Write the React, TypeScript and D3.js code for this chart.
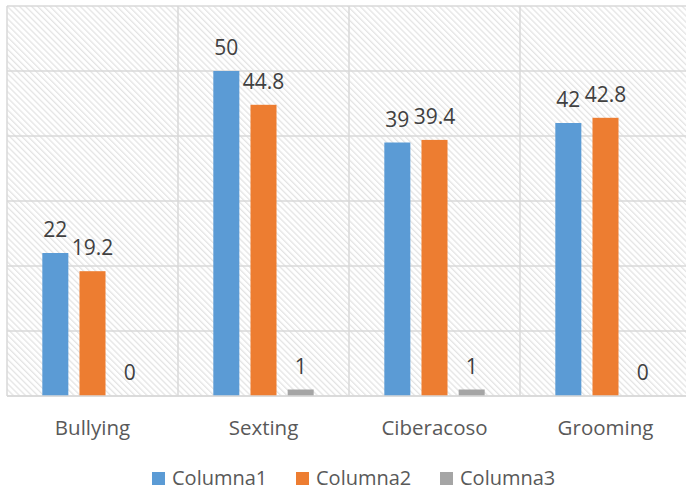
import React, { useEffect, useRef } from 'react';
import * as d3 from 'd3';

const categories = ['Bullying', 'Sexting', 'Ciberacoso', 'Grooming'];
const seriesNames = ['Columna1', 'Columna2', 'Columna3'];
const columna1 = [22, 50, 39, 42];
const columna2 = [19.2, 44.8, 39.4, 42.8];
const columna3 = [0, 1, 1, 0];
const yTicks = [0, 10, 20, 30, 40, 50, 60];

const colors = ['#5b9bd5', '#ed7d31', '#a5a5a5'];

export default function App() {
  const ref = useRef<SVGSVGElement>(null);

  useEffect(() => {
    if (!ref.current) return;
    const width = 686;
    const height = 490;
    const margin = { top: 6, left: 7, right: -5, bottom: 94 };

    const svg = d3.select(ref.current);
    svg.selectAll('*').remove();

    const values = [columna1, columna2, columna3];

    const x0 = d3
      .scaleBand()
      .domain(categories)
      .range([margin.left, width - margin.right])
      .padding(0);
    const x1 = d3
      .scaleBand()
      .domain(seriesNames)
      .range([0, x0.bandwidth()])
      .paddingInner(0.3)
      .paddingOuter(0.95);
    const y = d3
      .scaleLinear()
      .domain([0, 60])
      .range([height - margin.bottom, margin.top]);

    const defs = svg.append('defs');
    const pat = defs
      .append('pattern')
      .attr('id', 'hatch')
      .attr('patternUnits', 'userSpaceOnUse')
      .attr('width', 4.3)
      .attr('height', 4.3)
      .attr('patternTransform', 'rotate(-45)');
    pat.append('rect').attr('width', 4.3).attr('height', 4.3).attr('fill', '#fff');
    pat.append('rect').attr('width', 1.3).attr('height', 4.3).attr('fill', '#e4e4e4');

    // plot area background
    svg
      .append('rect')
      .attr('x', margin.left)
      .attr('y', margin.top)
      .attr('width', width - margin.right - margin.left)
      .attr('height', y(0) - margin.top)
      .attr('fill', 'url(#hatch)');

    // horizontal gridlines
    svg
      .append('g')
      .selectAll('line')
      .data(yTicks)
      .join('line')
      .attr('x1', margin.left)
      .attr('x2', width - margin.right)
      .attr('y1', d => y(d))
      .attr('y2', d => y(d))
      .attr('stroke', '#d9d9d9')
      .attr('stroke-width', 1.5);

    // vertical gridlines at category edges
    const edges = categories.map(c => x0(c) as number).concat([width - margin.right]);
    svg
      .append('g')
      .selectAll('line')
      .data(edges)
      .join('line')
      .attr('x1', d => d)
      .attr('x2', d => d)
      .attr('y1', margin.top)
      .attr('y2', y(0))
      .attr('stroke', '#d9d9d9')
      .attr('stroke-width', 1.5);

    // bars
    const groups = svg
      .append('g')
      .selectAll('g')
      .data(categories)
      .join('g')
      .attr('transform', d => `translate(${x0(d)},0)`);

    groups
      .selectAll('rect')
      .data((c, i) => seriesNames.map((s, k) => ({ s, k, v: values[k][i] })))
      .join('rect')
      .attr('x', d => x1(d.s) as number)
      .attr('y', d => y(d.v))
      .attr('width', x1.bandwidth())
      .attr('height', d => y(0) - y(d.v))
      .attr('fill', d => colors[d.k]);

    groups
      .selectAll('text')
      .data((c, i) => seriesNames.map((s, k) => ({ s, k, v: values[k][i] })))
      .join('text')
      .attr('x', d => (x1(d.s) as number) + x1.bandwidth() / 2)
      .attr('y', d => y(d.v) - 16)
      .attr('text-anchor', 'middle')
      .attr('font-family', 'Open Sans')
      .attr('font-size', 21)
      .attr('fill', '#404040')
      .text(d => String(d.v));

    // category axis line
    svg
      .append('line')
      .attr('x1', margin.left)
      .attr('x2', width - margin.right)
      .attr('y1', y(0))
      .attr('y2', y(0))
      .attr('stroke', '#d9d9d9')
      .attr('stroke-width', 1.5);

    svg
      .append('g')
      .selectAll('text')
      .data(categories)
      .join('text')
      .attr('x', d => (x0(d) as number) + x0.bandwidth() / 2)
      .attr('y', 435)
      .attr('text-anchor', 'middle')
      .attr('font-family', 'Open Sans')
      .attr('font-size', 20.5)
      .attr('fill', '#595959')
      .text(d => d);

    // legend
    const legend = svg
      .append('g')
      .selectAll('g')
      .data(seriesNames)
      .join('g')
      .attr('transform', (d, i) => `translate(${152 + i * 144},472)`);
    legend
      .append('rect')
      .attr('width', 13)
      .attr('height', 13)
      .attr('fill', (d, i) => colors[i]);
    legend
      .append('text')
      .attr('x', 20)
      .attr('y', 13)
      .attr('font-family', 'Open Sans')
      .attr('font-size', 20)
      .attr('fill', '#595959')
      .text(d => d);
  }, []);

  return (
    <svg
      ref={ref}
      width={686}
      height={490}
      style={{ position: 'absolute', left: 0, top: 0, background: '#fff' }}
    />
  );
}
